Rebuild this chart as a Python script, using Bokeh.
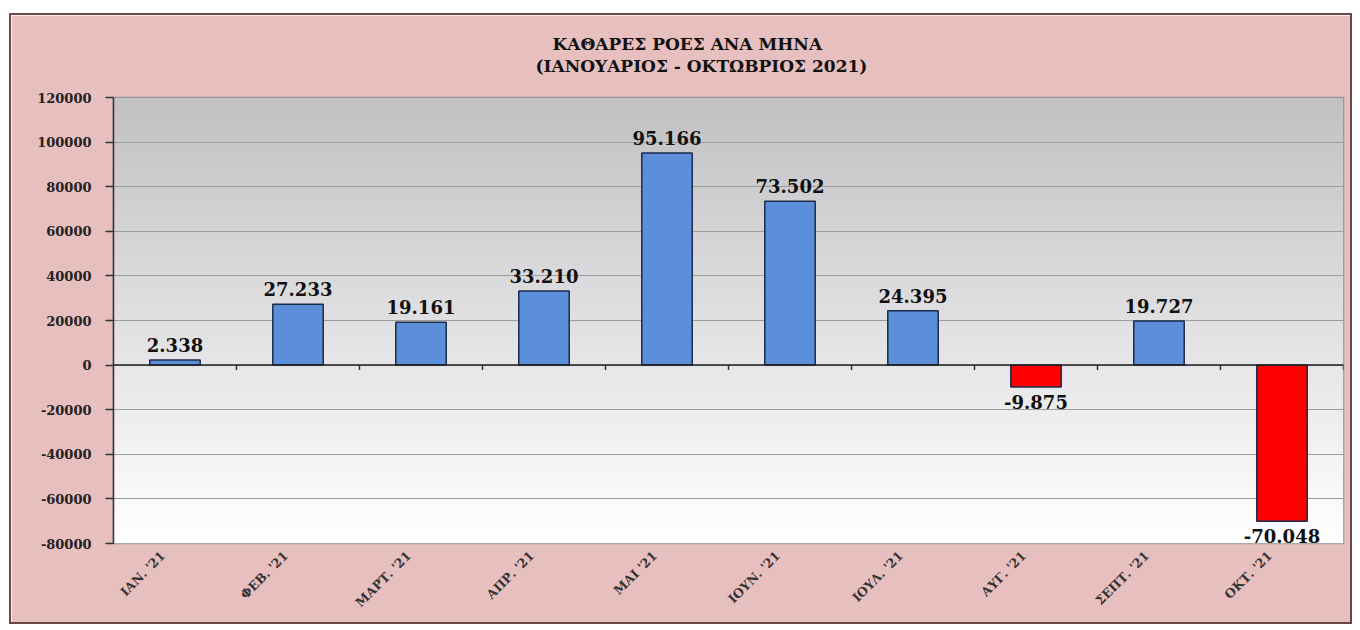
import numpy as np
from math import pi
from bokeh.plotting import figure
from bokeh.models import ColumnDataSource, FixedTicker, Span, Title, Range1d, NumeralTickFormatter
from bokeh.embed import file_html
from bokeh.resources import INLINE

# ---- data ----
months = ["ΙΑΝ. '21", "ΦΕΒ. '21", "ΜΑΡΤ. '21", "ΑΠΡ. '21", "ΜΑΙ '21",
          "ΙΟΥΝ. '21", "ΙΟΥΛ. '21", "ΑΥΓ. '21", "ΣΕΠΤ. '21", "ΟΚΤ. '21"]
net_flows = [2338, 27233, 19161, 33210, 95166, 73502, 24395, -9875, 19727, -70048]
y_ticks = [-80000, -60000, -40000, -20000, 0, 20000, 40000, 60000, 80000, 100000, 120000]
title_line1 = "ΚΑΘΑΡΕΣ ΡΟΕΣ ΑΝΑ ΜΗΝΑ"
title_line2 = "(ΙΑΝΟΥΑΡΙΟΣ -  ΟΚΤΩΒΡΙΟΣ  2021)"

# ---- derived ----
n = len(months)
xc = [i + 0.5 for i in range(n)]
colors = ["#5b8fd9" if v >= 0 else "#ff0000" for v in net_flows]
lbls = [f"{v:,}".replace(",", ".") for v in net_flows]

bars = ColumnDataSource(dict(x=xc, top=net_flows, color=colors))
pos = ColumnDataSource(dict(x=[xc[i] for i in range(n) if net_flows[i] >= 0],
                            y=[net_flows[i] for i in range(n) if net_flows[i] >= 0],
                            t=[lbls[i] for i in range(n) if net_flows[i] >= 0]))
neg = ColumnDataSource(dict(x=[xc[i] for i in range(n) if net_flows[i] < 0],
                            y=[net_flows[i] for i in range(n) if net_flows[i] < 0],
                            t=[lbls[i] for i in range(n) if net_flows[i] < 0]))

ymin, ymax = y_ticks[0], y_ticks[-1]

p = figure(width=1343, height=611, x_range=Range1d(0, n), y_range=Range1d(ymin, ymax),
           output_backend="svg", toolbar_location=None, tools="")
p.min_border_left = 102
p.min_border_right = 11
p.min_border_top = 82
p.min_border_bottom = 83
p.border_fill_color = "#e8bfbf"
p.outline_line_color = "#8c8c8c"
p.outline_line_width = 1.5
p.styles = {"border": "2px solid #6b4848", "margin-left": "9px", "margin-top": "13px"}

# gradient background (decorative)
rows = 256
img = np.empty((rows, 1), dtype=np.uint32)
view = img.view(dtype=np.uint8).reshape((rows, 1, 4))
for r in range(rows):
    t = r / (rows - 1)
    g = int(round(255 - 62 * t))
    view[r, 0, 0] = g
    view[r, 0, 1] = g
    view[r, 0, 2] = min(255, g + 2)
    view[r, 0, 3] = 255
p.image_rgba(image=[img], x=0, y=ymin, dw=n, dh=ymax - ymin, level="image")

# bars
p.vbar(x="x", top="top", bottom=0, width=0.41, source=bars, fill_color="color",
       line_color="#1c2a4c", line_width=1.5)

# zero line and category boundary ticks
p.add_layout(Span(location=0, dimension="width", line_color="#222222", line_width=1.5))
bounds = list(range(1, n + 1))
p.segment(x0=bounds, y0=[0] * n, x1=bounds, y1=[-2200] * n, line_color="#333333", line_width=1.5)

# value labels
p.text(x="x", y="y", text="t", source=pos, text_align="center", text_baseline="bottom",
       y_offset=-8, text_font={"value": "DejaVu Serif"}, text_font_style="bold",
       text_font_size="18px", text_color="#111111")
p.text(x="x", y="y", text="t", source=neg, text_align="center", text_baseline="top",
       y_offset=8, text_font={"value": "DejaVu Serif"}, text_font_style="bold",
       text_font_size="18px", text_color="#111111")

# axes
p.yaxis.ticker = FixedTicker(ticks=y_ticks)
p.yaxis.formatter = NumeralTickFormatter(format="0")
p.yaxis.minor_tick_line_color = None
p.yaxis.major_tick_out = 8
p.yaxis.major_tick_in = 0
p.yaxis.axis_line_color = "#333333"
p.yaxis.axis_line_width = 1.5
p.yaxis.major_tick_line_color = "#333333"
p.yaxis.major_tick_line_width = 1.5
p.yaxis.major_label_standoff = 14
p.yaxis.major_label_text_font = "DejaVu Serif"
p.yaxis.major_label_text_font_style = "bold"
p.yaxis.major_label_text_font_size = "13px"
p.yaxis.major_label_text_color = "#222222"

label_pos = [x - 0.1 for x in xc]
p.xaxis.ticker = FixedTicker(ticks=label_pos)
p.xaxis.major_label_overrides = {x: m for x, m in zip(label_pos, months)}
p.xaxis.major_label_orientation = pi / 4
p.xaxis.axis_line_color = None
p.xaxis.major_tick_line_color = None
p.xaxis.minor_tick_line_color = None
p.xaxis.major_label_standoff = 4
p.xaxis.major_label_text_font = "DejaVu Serif"
p.xaxis.major_label_text_font_style = "bold"
p.xaxis.major_label_text_font_size = "12.5px"
p.xaxis.major_label_text_color = "#333333"

p.xgrid.grid_line_color = None
p.ygrid.ticker = FixedTicker(ticks=y_ticks)
p.ygrid.grid_line_color = "#9c9c9c"
p.ygrid.grid_line_width = 1

# title (spacer nearest the frame, then line 2, then line 1)
p.add_layout(Title(text=" ", text_font_size="18px", standoff=0), "above")
p.add_layout(Title(text=title_line2, align="left", offset=422, standoff=0,
                   text_font="DejaVu Serif", text_font_style="bold",
                   text_font_size="17px", text_color="#111111"), "above")
p.add_layout(Title(text=title_line1, align="left", offset=439, standoff=0,
                   text_font="DejaVu Serif", text_font_style="bold",
                   text_font_size="17px", text_color="#111111"), "above")

open("out.html", "w").write(file_html(p, INLINE))
